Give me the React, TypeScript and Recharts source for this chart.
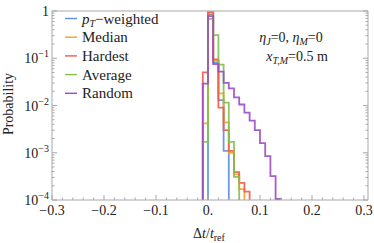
import { LineChart, Line, XAxis, YAxis } from 'recharts';

// histogram bins (left edges), width 0.01
const BIN_LEFT = [-0.01, 0, 0.01, 0.02, 0.03, 0.04, 0.05, 0.06, 0.07, 0.08, 0.09, 0.1, 0.11, 0.12, 0.13];
const BIN_WIDTH = 0.01;

const PT_WEIGHTED = [0, 0.85, 0.08, 0.013, 0.0011, 0, 0, 0, 0, 0, 0, 0, 0, 0, 0];
const MEDIAN = [0.0042, 0.92, 0.088, 0.018, 0.0044, 0.001, 0.00035, 0.00017, 0, 0, 0, 0, 0, 0, 0];
const HARDEST = [0.05, 0.95, 0.095, 0.009, 0.003, 0.0011, 0.00039, 0.00023, 0.00015, 0, 0, 0, 0, 0, 0];
const AVERAGE = [0.0017, 0.68, 0.31, 0.073, 0.0115, 0.0017, 0.00031, 0, 0, 0, 0, 0, 0, 0, 0];
const RANDOM = [0.029, 0.78, 0.075, 0.052, 0.03, 0.023, 0.0148, 0.0105, 0.0071, 0.0048, 0.003, 0.0016, 0.00085, 0.00032, 0.000105];

const X_MAJOR = [-0.3, -0.2, -0.1, 0, 0.1, 0.2, 0.3];
const X_LABELS = ['\u22120.3', '\u22120.2', '\u22120.1', '0.', '0.1', '0.2', '0.3'];
const Y_EXP = [-4, -3, -2, -1, 0];

const FONT = '"Liberation Serif", "Times New Roman", serif';
const FRAME = '#a8a8a8';
const FLOOR = 1e-6;

const SERIES = [
  { key: 'pt', values: PT_WEIGHTED, color: '#5b8ee6' },
  { key: 'median', values: MEDIAN, color: '#f7a21e' },
  { key: 'hardest', values: HARDEST, color: '#ef5b4c' },
  { key: 'average', values: AVERAGE, color: '#80c24a' },
  { key: 'random', values: RANDOM, color: '#9c4cc4' },
];

function toSteps(values: number[]) {
  let last = 0;
  values.forEach((v, i) => { if (v > 0) last = i; });
  const pts = [{ x: BIN_LEFT[0] - BIN_WIDTH, y: FLOOR }];
  for (let i = 0; i <= last; i++) pts.push({ x: BIN_LEFT[i], y: values[i] > 0 ? values[i] : FLOOR });
  pts.push({ x: BIN_LEFT[last] + BIN_WIDTH, y: FLOOR });
  return pts;
}

const xTicks: number[] = [];
for (let i = -15; i <= 15; i++) xTicks.push(i / 50);
const yTicks: number[] = [];
for (let k = -4; k <= 0; k++) {
  yTicks.push(Math.pow(10, k));
  if (k < 0) for (let m = 2; m <= 9; m++) yTicks.push(m * Math.pow(10, k));
}

function XTick(props: any) {
  const { x, y, payload, side } = props;
  const idx = X_MAJOR.findIndex(m => Math.abs(m - payload.value) < 1e-9);
  const len = idx >= 0 ? 5 : 2.5;
  const dir = side === 'bottom' ? -1 : 1;
  return (
    <g>
      <line x1={x} x2={x} y1={y} y2={y + dir * len} stroke={FRAME} />
      {side === 'bottom' && idx >= 0 && (
        <text x={x} y={y + 15} textAnchor="middle" style={{ fontFamily: FONT }} fontSize={14} fill="#222">{X_LABELS[idx]}</text>
      )}
    </g>
  );
}

function YTick(props: any) {
  const { x, y, payload, side } = props;
  const lg = Math.log10(payload.value);
  const idx = Y_EXP.findIndex(e => Math.abs(e - lg) < 1e-6);
  const len = idx >= 0 ? 5 : 2.5;
  const dir = side === 'left' ? 1 : -1;
  return (
    <g>
      <line x1={x} x2={x + dir * len} y1={y} y2={y} stroke={FRAME} />
      {side === 'left' && idx >= 0 && (
        <text x={x - 3} y={y + 5} textAnchor="end" style={{ fontFamily: FONT }} fontSize={14} fill="#222">
          {Y_EXP[idx] === 0 ? '1' : (
            <>
              <tspan>10</tspan>
              <tspan dy={-6} fontSize={10}>{'\u2212' + Math.abs(Y_EXP[idx])}</tspan>
            </>
          )}
        </text>
      )}
    </g>
  );
}

const LEGEND = [
  { color: SERIES[0].color, label: 'pt' },
  { color: SERIES[1].color, label: 'Median' },
  { color: SERIES[2].color, label: 'Hardest' },
  { color: SERIES[3].color, label: 'Average' },
  { color: SERIES[4].color, label: 'Random' },
];

export default function App() {
  return (
    <div style={{ position: 'absolute', left: 0, top: 0, width: 374, height: 243, background: '#fff', fontFamily: FONT }}>
      <LineChart width={374} height={243} margin={{ top: 10, right: 5, bottom: 0, left: 8 }}>
        <XAxis
          dataKey="x" type="number" domain={[-0.3, 0.3077]} allowDataOverflow
          ticks={xTicks} interval={0} height={43} tickSize={0} tickMargin={0}
          axisLine={{ stroke: FRAME }} tickLine={false}
          tick={(p: any) => <XTick {...p} side="bottom" />}
        />
        <XAxis
          xAxisId="top" orientation="top" type="number" domain={[-0.3, 0.3077]} allowDataOverflow
          ticks={xTicks} interval={0} height={1} tickSize={0} tickMargin={0}
          axisLine={{ stroke: FRAME }} tickLine={false}
          tick={(p: any) => <XTick {...p} side="top" />}
        />
        <YAxis
          type="number" scale="log" domain={[1e-4, 1]} allowDataOverflow
          ticks={yTicks} interval={0} width={44} tickSize={0} tickMargin={0}
          axisLine={{ stroke: FRAME }} tickLine={false}
          tick={(p: any) => <YTick {...p} side="left" />}
        />
        <YAxis
          yAxisId="right" orientation="right" type="number" scale="log" domain={[1e-4, 1]} allowDataOverflow
          ticks={yTicks} interval={0} width={1} tickSize={0} tickMargin={0}
          axisLine={{ stroke: FRAME }} tickLine={false}
          tick={(p: any) => <YTick {...p} side="right" />}
        />
        {SERIES.map(s => (
          <Line
            key={s.key} data={toSteps(s.values)} dataKey="y" type="stepAfter"
            stroke={s.color} strokeWidth={1.8} strokeOpacity={0.9} dot={false}
            isAnimationActive={false}
          />
        ))}
      </LineChart>
      <svg width={374} height={243} style={{ position: 'absolute', left: 0, top: 0, pointerEvents: 'none' }}>
        <g style={{ fontFamily: FONT }} fill="#222">
          {LEGEND.map((l, i) => {
            const cy = 18.5 + i * 18.7;
            return (
              <g key={l.label}>
                <line x1={65} x2={77} y1={cy} y2={cy} stroke={l.color} strokeWidth={1.4} />
                <text x={82} y={cy + 5} fontSize={15}>
                  {l.label === 'pt' ? (
                    <>
                      <tspan fontStyle="italic">p</tspan>
                      <tspan fontStyle="italic" fontSize={10} dy={3}>T</tspan>
                      <tspan dy={-3}>{'\u2212weighted'}</tspan>
                    </>
                  ) : l.label}
                </text>
              </g>
            );
          })}
          <text x={291} y={42} fontSize={14} textAnchor="middle">
            <tspan fontStyle="italic">{'\u03b7'}</tspan>
            <tspan fontStyle="italic" fontSize={10} dy={3}>J</tspan>
            <tspan dy={-3}>=0, </tspan>
            <tspan fontStyle="italic">{'\u03b7'}</tspan>
            <tspan fontStyle="italic" fontSize={10} dy={3}>M</tspan>
            <tspan dy={-3}>=0</tspan>
          </text>
          <text x={297} y={61} fontSize={14} textAnchor="middle">
            <tspan fontStyle="italic">x</tspan>
            <tspan fontStyle="italic" fontSize={10} dy={3}>T,M</tspan>
            <tspan dy={-3}>=0.5 m</tspan>
          </text>
          <text x={209} y={238} fontSize={14} textAnchor="middle">
            <tspan>{'\u0394'}</tspan>
            <tspan fontStyle="italic">t</tspan>
            <tspan>/</tspan>
            <tspan fontStyle="italic">t</tspan>
            <tspan fontSize={10} dy={3}>ref</tspan>
          </text>
          <text x={13} y={104} fontSize={14} textAnchor="middle" transform="rotate(-90 13 104)">Probability</text>
        </g>
      </svg>
    </div>
  );
}
